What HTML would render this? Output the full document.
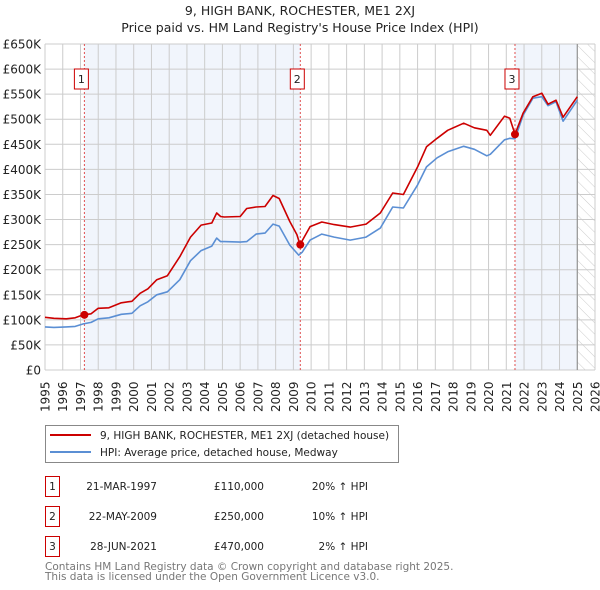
<!DOCTYPE html>
<html><head><meta charset="utf-8"><style>
body{margin:0;background:#fff;font-family:"Liberation Sans","DejaVu Sans",sans-serif;}
#wrap{position:relative;width:600px;height:590px;overflow:hidden}
svg text{font-family:"DejaVu Sans","Liberation Sans",sans-serif}
</style></head><body>
<div id="wrap">
<svg id="chart" width="600" height="590"></svg>
</div>
<script>
const yearTicks=[1995,1996,1997,1998,1999,2000,2001,2002,2003,2004,2005,2006,2007,2008,2009,2010,2011,2012,2013,2014,2015,2016,2017,2018,2019,2020,2021,2022,2023,2024,2025,2026];
const valueTicks=[0,50,100,150,200,250,300,350,400,450,500,550,600,650];
const valueLabels=["£0","£50K","£100K","£150K","£200K","£250K","£300K","£350K","£400K","£450K","£500K","£550K","£600K","£650K"];
const redT=[1995.0,1995.5,1996.2,1996.7,1997.16,1997.6,1998.0,1998.6,1999.3,1999.9,2000.36,2000.8,2001.3,2001.9,2002.6,2003.2,2003.8,2004.4,2004.68,2004.9,2005.1,2006.0,2006.37,2006.9,2007.4,2007.85,2008.2,2008.8,2009.2,2009.37,2009.94,2010.6,2011.3,2012.2,2013.1,2013.9,2014.6,2015.2,2016.0,2016.5,2017.1,2017.7,2018.6,2019.2,2019.9,2020.1,2020.9,2021.2,2021.49,2021.95,2022.5,2023.0,2023.35,2023.8,2024.2,2025.0];
const redV=[105,103,102,104,110,112,123,124,134,137,153,162,180,188,226,265,289,293,313,306,305,306,322,325,326,348,342,296,270,250,286,295,290,285,291,313,353,350,405,445,462,478,492,483,478,468,506,502,470,512,545,552,530,538,504,545];
const blueT=[1995.0,1995.5,1996.2,1996.7,1997.16,1997.6,1998.0,1998.6,1999.3,1999.9,2000.36,2000.8,2001.3,2001.9,2002.6,2003.2,2003.8,2004.4,2004.68,2004.9,2005.1,2006.0,2006.37,2006.9,2007.4,2007.85,2008.2,2008.8,2009.3,2009.5,2009.94,2010.6,2011.3,2012.2,2013.1,2013.9,2014.6,2015.2,2016.0,2016.5,2017.1,2017.7,2018.6,2019.2,2019.9,2020.1,2020.9,2021.2,2021.49,2021.95,2022.5,2023.0,2023.35,2023.8,2024.2,2025.0];
const blueV=[86,85,86,87,92,95,102,104,111,113,128,136,150,156,180,218,238,247,263,256,256,255,256,271,273,291,287,249,229,235,259,271,265,259,265,283,325,323,369,405,423,435,446,440,427,430,459,462,461,508,542,545,527,535,496,538];
const saleT=[1997.22,2009.39,2021.49];
const saleV=[110,250,470];
const saleLabels=["1","2","3"];
const saleDates=["21-MAR-1997","22-MAY-2009","28-JUN-2021"];
const salePrices=["£110,000","£250,000","£470,000"];
const saleHpi=["20% ↑ HPI","10% ↑ HPI","2% ↑ HPI"];

const NS="http://www.w3.org/2000/svg";
const svg=document.getElementById('chart');
const L=45,R=595,T=44,B=370;
const x=t=>L+(t-1995)/(2026-1995)*(R-L);
const y=v=>B-v/650*(B-T);
function el(tag,attrs,parent){const e=document.createElementNS(NS,tag);for(const k in attrs)e.setAttribute(k,attrs[k]);(parent||svg).appendChild(e);return e;}
function txt(s,attrs,parent){const e=el('text',attrs,parent);e.textContent=s;return e;}

// title
let t1=txt("9, HIGH BANK, ROCHESTER, ME1 2XJ",{x:300,y:15,'text-anchor':'middle','font-size':12.5,fill:'#222'});


let t2=txt("Price paid vs. HM Land Registry's House Price Index (HPI)",{x:300,y:32,'text-anchor':'middle','font-size':12.5,fill:'#222'});



// defs hatch
const defs=el('defs',{});
const pat=el('pattern',{id:'hatch',width:8,height:8,patternUnits:'userSpaceOnUse',patternTransform:'rotate(-45)'},defs);
el('line',{x1:0,y1:0,x2:0,y2:8,stroke:'#ccc','stroke-width':1},pat);

// shaded ownership periods
let s1=el('rect',{x:x(saleT[0]),y:T,width:x(saleT[1])-x(saleT[0]),height:B-T,fill:'#eef3fb',opacity:0.8});


let s2=el('rect',{x:x(saleT[2]),y:T,width:x(2025.0)-x(saleT[2]),height:B-T,fill:'#eef3fb',opacity:0.8});


let hz=el('rect',{x:x(2025.0),y:T,width:R-x(2025.0),height:B-T,fill:'url(#hatch)'});



// grid
const grid=el('g',{stroke:'#cccccc','stroke-width':1});


yearTicks.forEach(yr=>el('line',{x1:x(yr),x2:x(yr),y1:T,y2:B},grid));
valueTicks.forEach(v=>el('line',{x1:L,x2:R,y1:y(v),y2:y(v)},grid));
el('line',{x1:x(2025.0),x2:x(2025.0),y1:T,y2:B,stroke:'#888','stroke-width':1});

// y labels
valueTicks.forEach((v,i)=>{const e=txt(valueLabels[i],{x:41,y:y(v)+4.5,'text-anchor':'end','font-size':12,fill:'#222'});

});
// x labels
yearTicks.forEach(yr=>{const e=txt(String(yr),{transform:`translate(${x(yr)+4.5},412) rotate(-90)`,'font-size':12,fill:'#222'});

});

// sale vlines + markers labels
saleT.forEach((st,i)=>{
 const l=el('line',{x1:x(st),x2:x(st),y1:T,y2:B,stroke:'#e05050','stroke-width':1,'stroke-dasharray':'2,2'});
 
 
 const g=el('g',{});
 
 
 el('rect',{x:x(st)-10,y:69,width:14,height:20,fill:'#fff',stroke:'#c00','stroke-width':1},g);
 txt(saleLabels[i],{x:x(st)-3,y:83,'text-anchor':'middle','font-size':11,fill:'#222'},g);
});

function line(ts,vs,color,name){const d=ts.map((t,i)=>(i?'L':'M')+x(t).toFixed(1)+','+y(vs[i]).toFixed(1)).join('');
 const p=el('path',{d:d,fill:'none',stroke:color,'stroke-width':1.6,'stroke-linejoin':'round'});
 
 }
line(blueT,blueV,'#5b8fd4','hpi-line');
line(redT,redV,'#cc0000','price-paid-line');
saleT.forEach((st,i)=>{const c=el('circle',{cx:x(st),cy:y(saleV[i]),r:4,fill:'#cc0000'});
 
 });

// legend
const lg=el('g',{});


el('rect',{x:45.5,y:425.5,width:353,height:37,fill:'#fff',stroke:'#888'},lg);
el('line',{x1:50,x2:91,y1:435,y2:435,stroke:'#cc0000','stroke-width':2},lg);
el('line',{x1:50,x2:91,y1:452,y2:452,stroke:'#5b8fd4','stroke-width':2},lg);
let le1=txt("9, HIGH BANK, ROCHESTER, ME1 2XJ (detached house)",{x:100,y:439,'font-size':10.5,fill:'#222'},lg);


let le2=txt("HPI: Average price, detached house, Medway",{x:100,y:456,'font-size':10.5,fill:'#222'},lg);



// table
saleT.forEach((st,i)=>{const ry=476+i*30;const g=el('g',{});
 
 
 el('rect',{x:45.5,y:ry+0.5,width:14,height:20,fill:'#fff',stroke:'#c00'},g);
 txt(saleLabels[i],{x:52.5,y:ry+14,'text-anchor':'middle','font-size':10.5,fill:'#222'},g);
 txt(saleDates[i],{x:157,y:ry+14,'text-anchor':'end','font-size':10.5,fill:'#222'},g);
 txt(salePrices[i],{x:264,y:ry+14,'text-anchor':'end','font-size':10.5,fill:'#222'},g);
 txt(saleHpi[i],{x:368,y:ry+14,'text-anchor':'end','font-size':10.5,fill:'#222'},g);
});
let f1=txt("Contains HM Land Registry data © Crown copyright and database right 2025.",{x:45,y:570,'font-size':10.5,fill:'#777'});


let f2=txt("This data is licensed under the Open Government Licence v3.0.",{x:45,y:580,'font-size':10.5,fill:'#777'});


</script>
</body></html>
